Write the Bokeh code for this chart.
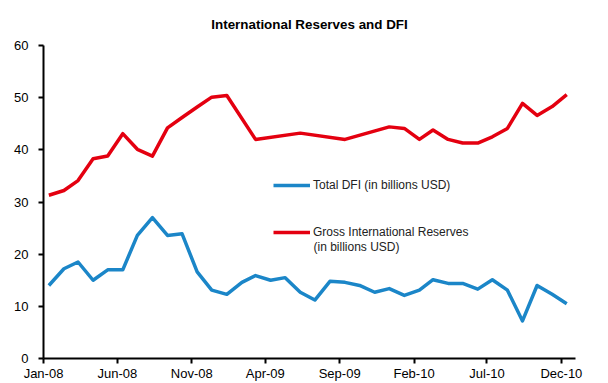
import pandas as pd
from bokeh.plotting import figure
from bokeh.models import (ColumnDataSource, Range1d, FixedTicker, DatetimeTickFormatter,
                          Legend, LegendItem, Label)
from bokeh.embed import file_html
from bokeh.resources import INLINE

# ---------------- data ----------------
dfi_months = ["2008-01", "2008-02", "2008-03", "2008-04", "2008-05", "2008-06",
              "2008-07", "2008-08", "2008-09", "2008-10", "2008-11", "2008-12",
              "2009-01", "2009-02", "2009-03", "2009-04", "2009-05", "2009-06",
              "2009-07", "2009-08", "2009-09", "2009-10", "2009-11", "2009-12",
              "2010-01", "2010-02", "2010-03", "2010-04", "2010-05", "2010-06",
              "2010-07", "2010-08", "2010-09", "2010-10", "2010-11", "2010-12"]
dfi_values = [14.0, 17.2, 18.5, 15.0, 17.0, 17.0,
              23.6, 27.0, 23.6, 23.9, 16.6, 13.1,
              12.3, 14.6, 15.9, 15.0, 15.5, 12.7,
              11.2, 14.8, 14.6, 14.0, 12.7, 13.4,
              12.1, 13.1, 15.1, 14.4, 14.4, 13.3,
              15.1, 13.1, 7.2, 14.0, 12.3, 10.5]

reserves_months = ["2008-01", "2008-02", "2008-03", "2008-04", "2008-05", "2008-06",
                   "2008-07", "2008-08", "2008-09", "2008-10", "2008-11", "2008-12",
                   "2009-01", "2009-03", "2009-06", "2009-09", "2009-12",
                   "2010-01", "2010-02", "2010-03", "2010-04", "2010-05", "2010-06",
                   "2010-07", "2010-08", "2010-09", "2010-10", "2010-11", "2010-12"]
reserves_values = [31.3, 32.2, 34.1, 38.3, 38.8, 43.1,
                   40.1, 38.8, 44.2, 46.2, 48.2, 50.1,
                   50.4, 42.0, 43.2, 42.0, 44.4,
                   44.1, 42.0, 43.8, 42.0, 41.3, 41.3,
                   42.5, 44.1, 48.9, 46.6, 48.3, 50.6]

x_tick_labels = ["Jan-08", "Jun-08", "Nov-08", "Apr-09", "Sep-09", "Feb-10", "Jul-10", "Dec-10"]
y_ticks = [0, 10, 20, 30, 40, 50, 60]

title_text = "International Reserves and DFI"
dfi_label = "Total DFI (in billions USD)"
res_label_1 = "Gross International Reserves"
res_label_2 = "(in billions USD)"

# ---------------- drawing ----------------
FONT = "Liberation Sans"
BLUE = "#1B86C8"
RED = "#E40010"

def to_dt(months):
    return [pd.Timestamp(m + "-01") + pd.Timedelta(days=11) for m in months]

dfi_src = ColumnDataSource(dict(x=to_dt(dfi_months), y=dfi_values))
res_src = ColumnDataSource(dict(x=to_dt(reserves_months), y=reserves_values))

x_ticks = [pd.to_datetime(t, format="%b-%y") for t in x_tick_labels]
x_ticks_ms = [t.value / 1e6 for t in x_ticks]

p = figure(width=608, height=383, x_axis_type="datetime",
           output_backend="svg", toolbar_location=None,
           x_range=Range1d(pd.Timestamp("2008-01-01"), pd.Timestamp("2010-12-30")),
           y_range=Range1d(0, 60),
           min_border_left=43, min_border_right=33,
           min_border_top=45, min_border_bottom=25)
p.outline_line_color = None
p.grid.visible = False
p.background_fill_color = "white"
p.border_fill_color = "white"

p.title.text = title_text
p.title.align = "center"
p.title.text_font = FONT
p.title.text_font_size = "13.4px"
p.title.text_font_style = "bold"
p.title.text_color = "black"
p.title.offset = -18
p.title.standoff = 28

for ax in (p.xaxis[0], p.yaxis[0]):
    ax.axis_line_width = 2
    ax.axis_line_color = "black"
    ax.major_tick_line_color = "black"
    ax.major_tick_line_width = 2
    ax.major_tick_in = 0
    ax.major_tick_out = 5
    ax.minor_tick_line_color = None
    ax.major_label_text_font = FONT
    ax.major_label_text_font_size = "13px"
    ax.major_label_text_color = "black"

p.xaxis[0].ticker = FixedTicker(ticks=x_ticks_ms)
fmt = "%b-%y"
p.xaxis[0].formatter = DatetimeTickFormatter(
    microseconds=fmt, milliseconds=fmt, seconds=fmt, minsec=fmt, minutes=fmt,
    hourmin=fmt, hours=fmt, days=fmt, months=fmt, years=fmt)
p.xaxis[0].major_label_standoff = 2
p.yaxis[0].ticker = FixedTicker(ticks=y_ticks)
p.yaxis[0].major_label_standoff = 10

r_dfi = p.line("x", "y", source=dfi_src, line_color=BLUE, line_width=3.5, line_join="round")
r_res = p.line("x", "y", source=res_src, line_color=RED, line_width=3.5, line_join="round")

legend = Legend(items=[LegendItem(label=dfi_label, renderers=[r_dfi]),
                       LegendItem(label=res_label_1, renderers=[r_res])],
                location=(230, 119), orientation="vertical",
                glyph_width=37, glyph_height=14, label_height=14, label_standoff=3,
                spacing=33, padding=0, margin=0,
                label_text_font=FONT, label_text_font_size="12px",
                label_text_color="#222222",
                background_fill_alpha=0, border_line_color=None)
p.add_layout(legend, "center")

p.add_layout(Label(x=270, y=358 - 246, x_units="screen", y_units="screen",
                   text=res_label_2, text_font=FONT, text_font_size="12px",
                   text_color="#222222", text_baseline="middle", text_align="left"))

open("out.html", "w").write(file_html(p, INLINE))
